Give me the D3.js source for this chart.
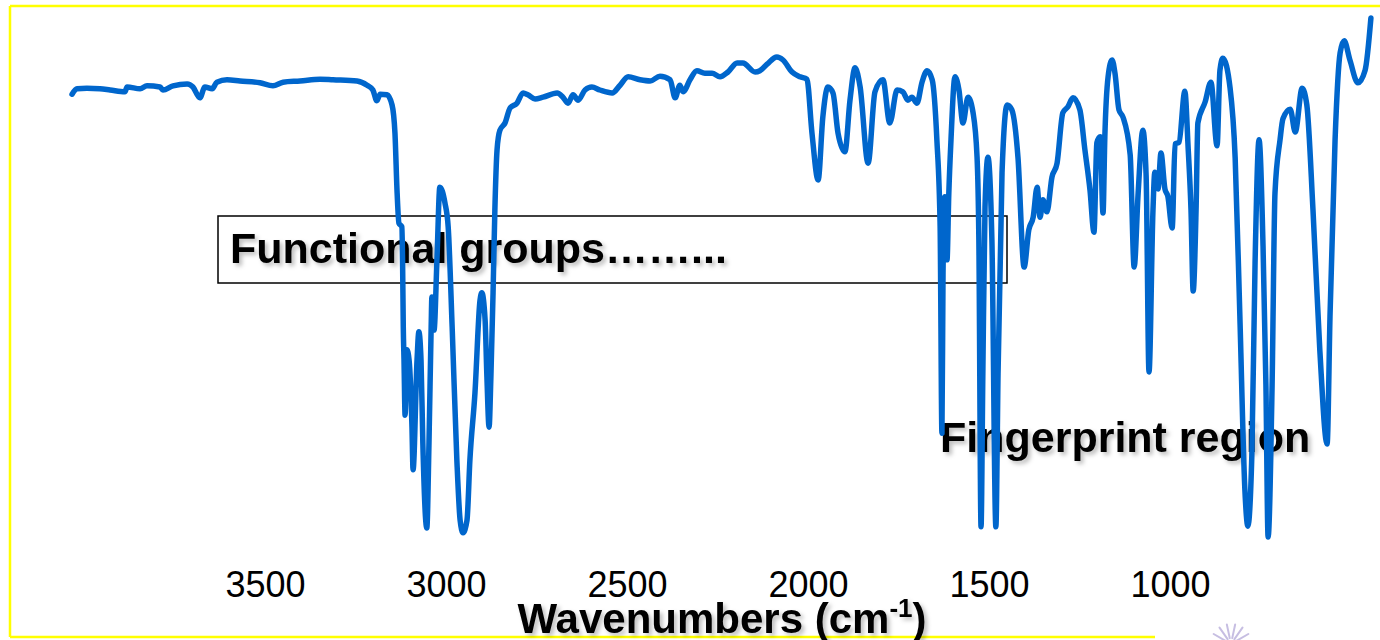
<!DOCTYPE html>
<html>
<head>
<meta charset="utf-8">
<script src="https://cdn.jsdelivr.net/npm/d3@7"></script>
<style>
  body { margin: 0; background: #fff; overflow: hidden; }
  svg { display: block; font-family: "Liberation Sans", Arial, sans-serif; }
</style>
</head>
<body>
<div id="ir_chart"></div>
<script>
// IR spectrum (wavenumber in cm-1, transmittance in %)
var wavenumber = [
  4033, 4019, 3992, 3956, 3928, 3887, 3881, 3845, 3826, 3790,
  3782, 3754, 3715, 3699, 3680, 3666, 3646, 3633, 3605, 3569,
  3514, 3478, 3450, 3403, 3348, 3312, 3246, 3218, 3202, 3191,
  3182, 3163, 3149, 3141, 3135, 3130, 3122, 3120, 3118, 3116,
  3113, 3108, 3102, 3094, 3091, 3080, 3075, 3069, 3064, 3053,
  3047, 3041, 3039, 3033, 3025, 3017, 3003, 2994, 2983, 2970,
  2961, 2953, 2942, 2934, 2920, 2906, 2901, 2892, 2887, 2881,
  2876, 2870, 2865, 2859, 2851, 2837, 2823, 2804, 2787, 2774,
  2754, 2732, 2693, 2677, 2663, 2649, 2635, 2616, 2597, 2575,
  2541, 2519, 2497, 2464, 2436, 2409, 2381, 2367, 2354, 2345,
  2326, 2307, 2285, 2265, 2243, 2221, 2196, 2180, 2146, 2133,
  2113, 2086, 2069, 2044, 2022, 2003, 1989, 1972, 1959, 1945,
  1931, 1917, 1898, 1884, 1870, 1856, 1834, 1815, 1793, 1774,
  1754, 1738, 1724, 1713, 1699, 1685, 1671, 1657, 1644, 1635,
  1630, 1627, 1622, 1616, 1611, 1605, 1594, 1583, 1572, 1558,
  1544, 1533, 1528, 1522, 1517, 1511, 1503, 1492, 1481, 1475,
  1464, 1450, 1437, 1420, 1403, 1390, 1378, 1367, 1359, 1351,
  1340, 1326, 1312, 1296, 1282, 1268, 1249, 1235, 1221, 1210,
  1202, 1193, 1185, 1180, 1171, 1160, 1152, 1141, 1130, 1110,
  1099, 1088, 1075, 1066, 1058, 1047, 1042, 1033, 1025, 1014,
  1006, 994, 986, 975, 959, 950, 942, 936, 928, 923,
  903, 887, 870, 862, 854, 834, 820, 807, 793, 785,
  774, 765, 754, 743, 735, 729, 718, 710, 696, 688,
  668, 654, 635, 622, 605, 586, 566, 558, 544, 530,
  519, 503, 481, 461, 445
];
var transmittance = [
  84.3, 85.2, 85.3, 85.2, 85.0, 84.7, 85.5, 85.2, 85.7, 85.5,
  85.0, 85.7, 86.0, 85.5, 83.7, 85.5, 85.2, 86.3, 86.7, 86.5,
  86.2, 85.7, 86.3, 86.5, 86.8, 86.7, 86.5, 85.8, 85.0, 83.2,
  84.3, 84.2, 82.5, 77.8, 67.8, 62.8, 62.2, 56.7, 45.5, 40.0,
  30.8, 41.7, 40.0, 28.8, 21.7, 40.0, 44.7, 40.0, 26.2, 12.0,
  26.2, 45.5, 50.5, 45.0, 56.7, 68.8, 66.2, 62.2, 45.5, 23.3,
  13.3, 11.2, 13.3, 23.3, 34.5, 50.0, 51.2, 46.7, 37.2, 28.8,
  37.2, 51.2, 65.0, 75.0, 78.3, 79.5, 82.0, 82.8, 84.5, 84.2,
  83.5, 83.8, 84.5, 83.8, 82.8, 84.2, 83.3, 85.0, 85.5, 85.0,
  84.5, 85.8, 87.2, 86.7, 86.5, 87.3, 86.7, 83.7, 85.8, 84.7,
  86.7, 88.2, 87.8, 87.8, 87.2, 88.0, 89.5, 89.5, 88.0, 88.2,
  89.3, 90.5, 90.0, 88.0, 87.2, 86.8, 77.8, 70.0, 80.5, 85.5,
  84.5, 77.8, 74.7, 83.3, 88.7, 85.5, 72.8, 84.7, 86.7, 79.5,
  85.0, 84.7, 83.3, 83.8, 82.8, 86.3, 88.2, 86.7, 76.7, 62.2,
  27.8, 54.5, 67.2, 56.7, 67.8, 76.7, 87.2, 85.0, 79.5, 83.8,
  81.2, 73.8, 60.0, 12.2, 37.8, 65.5, 73.8, 60.0, 12.2, 37.8,
  71.2, 82.5, 81.7, 73.8, 55.5, 61.7, 63.8, 68.8, 63.8, 66.7,
  64.7, 70.5, 72.8, 81.2, 82.2, 83.7, 81.7, 75.0, 68.3, 61.3,
  76.2, 77.2, 64.5, 77.2, 87.2, 90.0, 87.8, 81.7, 80.5, 74.2,
  55.5, 67.8, 78.3, 70.8, 38.0, 65.0, 71.3, 68.5, 74.5, 68.5,
  67.3, 62.0, 76.0, 76.3, 84.8, 75.5, 65.0, 51.5, 65.0, 79.5,
  83.0, 86.3, 75.7, 88.3, 90.3, 85.3, 73.7, 47.3, 18.2, 12.3,
  24.0, 56.2, 76.7, 59.0, 35.7, 10.5, 35.7, 67.8, 76.7, 80.2,
  81.8, 78.0, 85.3, 82.5, 65.0, 41.5, 26.0, 47.3, 76.7, 91.2,
  93.2, 90.0, 86.2, 88.3, 97.0
];
var tickValues = [3500, 3000, 2500, 2000, 1500, 1000];
var boxLabel = "Functional groups……...";
var regionLabel = "Fingerprint region";
var axisTitle = "Wavenumbers (cm";

var width = 1380, height = 640;

var svg = d3.select("#ir_chart")
  .append("svg")
    .attr("width", width)
    .attr("height", height);

// soft shadow used by the slide texts
svg.append("defs").append("filter")
    .attr("id", "shadow")
    .attr("x", "-5%").attr("y", "-20%")
    .attr("width", "115%").attr("height", "160%")
  .append("feDropShadow")
    .attr("dx", 3).attr("dy", 3)
    .attr("stdDeviation", 2)
    .attr("flood-color", "#000")
    .attr("flood-opacity", 0.25);

// reversed wavenumber axis
var x = d3.scaleLinear()
  .domain([4000, 500])
  .range([84, 1351]);

var y = d3.scaleLinear()
  .domain([0, 100])
  .range([600, 0]);

// yellow slide frame
var frame = svg.append("g")
  .attr("stroke", "#ffff00")
  .attr("stroke-width", 2.5);
frame.append("line").attr("x1", 10).attr("y1", 6).attr("x2", 1380).attr("y2", 6);
frame.append("line").attr("x1", 10).attr("y1", 6).attr("x2", 10).attr("y2", 637);
frame.append("line").attr("x1", 10).attr("y1", 637).attr("x2", 1155).attr("y2", 637);

// faint slide logo peeking in at the bottom right
var logo = svg.append("g")
  .attr("stroke", "#b9aedb")
  .attr("stroke-width", 2)
  .attr("stroke-linecap", "round")
  .attr("opacity", 0.8);
[-60, -35, -12, 12, 35, 60].forEach(function(a){
  var r = a * Math.PI / 180;
  logo.append("line")
    .attr("x1", 1231 + Math.sin(r) * 6).attr("y1", 644 - Math.cos(r) * 6)
    .attr("x2", 1231 + Math.sin(r) * 20).attr("y2", 644 - Math.cos(r) * 20);
});

// tick labels only, no axis line
svg.append("g")
    .attr("transform", "translate(0,571)")
    .call(d3.axisBottom(x).tickValues(tickValues).tickSize(0).tickPadding(0).tickFormat(d3.format("d")))
    .call(function(g){ g.select(".domain").remove(); })
    .selectAll("text")
      .attr("fill", "#000")
      .style("font-family", "'Liberation Sans', Arial, sans-serif")
      .style("font-size", "36px");

// axis title with superscript
var title = svg.append("text")
    .attr("x", 722)
    .attr("y", 633)
    .attr("text-anchor", "middle")
    .style("font-size", "42px")
    .style("font-weight", "bold")
    .attr("fill", "#000")
    .attr("filter", "url(#shadow)");
title.append("tspan").text(axisTitle);
title.append("tspan").attr("dy", -16).style("font-size", "26px").text("-1");
title.append("tspan").attr("dy", 16).text(")");

// functional group box
svg.append("rect")
    .attr("x", 218).attr("y", 216)
    .attr("width", 789).attr("height", 67)
    .attr("fill", "none")
    .attr("stroke", "#000")
    .attr("stroke-width", 1.5);

svg.append("text")
    .attr("x", 230).attr("y", 263)
    .style("font-size", "43px")
    .style("font-weight", "bold")
    .attr("fill", "#000")
    .attr("filter", "url(#shadow)")
    .text(boxLabel);

svg.append("text")
    .attr("x", 940).attr("y", 452)
    .style("font-size", "43px")
    .style("font-weight", "bold")
    .attr("fill", "#000")
    .attr("filter", "url(#shadow)")
    .text(regionLabel);

// the spectrum
var data = d3.zip(wavenumber, transmittance);

var line = d3.line()
  .x(function(d){ return x(d[0]); })
  .y(function(d){ return y(d[1]); })
  .curve(d3.curveMonotoneX);

svg.append("path")
    .datum(data)
    .attr("d", line)
    .attr("fill", "none")
    .attr("stroke", "#0066cc")
    .attr("stroke-width", 5.5)
    .attr("stroke-linejoin", "round")
    .attr("stroke-linecap", "round");
</script>
</body>
</html>
